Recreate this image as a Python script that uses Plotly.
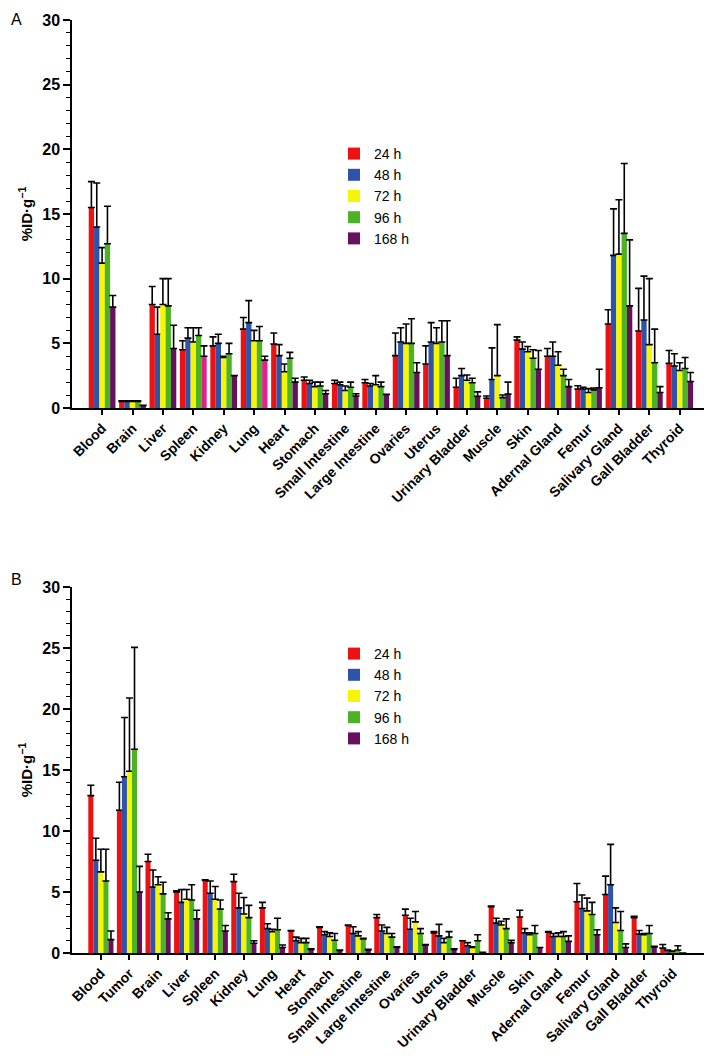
import plotly.graph_objects as go

series_names = ["24 h", "48 h", "72 h", "96 h", "168 h"]
series_colors = ["#ee1111", "#2d54a8", "#f6f600", "#4cb324", "#66115e"]
pink = "#e0208c"

cats_a = ["Blood", "Brain", "Liver", "Spleen", "Kidney", "Lung", "Heart", "Stomach",
          "Small Intestine", "Large Intestine", "Ovaries", "Uterus", "Urinary Bladder",
          "Muscle", "Skin", "Adernal Gland", "Femur", "Salivary Gland", "Gall Bladder", "Thyroid"]

a_24 = [15.5, 0.5, 8.0, 4.5, 4.8, 6.1, 4.95, 2.15, 1.9, 1.95, 4.05, 3.4, 1.6, 0.75, 5.25, 4.0, 1.47, 6.5, 5.95, 3.45]
a_24_top = [17.5, 0.55, 9.4, 5.2, 5.5, 7.0, 5.8, 2.4, 2.15, 2.2, 5.8, 4.8, 2.3, 0.93, 5.5, 4.6, 1.72, 7.6, 9.25, 4.45]
a_48 = [14.0, 0.5, 5.7, 5.4, 5.0, 6.6, 4.05, 1.9, 1.8, 1.7, 5.1, 5.1, 2.5, 2.2, 4.55, 4.0, 1.47, 11.8, 6.8, 3.25]
a_48_top = [17.4, 0.55, 7.8, 6.2, 5.7, 8.3, 4.9, 2.15, 2.0, 1.9, 6.2, 6.6, 3.05, 4.65, 5.1, 5.1, 1.6, 15.4, 10.2, 4.2]
a_72 = [11.2, 0.5, 8.0, 5.1, 3.9, 5.2, 2.8, 1.65, 1.35, 1.8, 5.0, 5.0, 2.15, 2.5, 4.35, 3.3, 1.2, 11.9, 4.9, 2.9]
a_72_top = [12.4, 0.55, 10.0, 6.2, 4.0, 6.0, 3.4, 2.0, 1.7, 2.5, 6.5, 6.2, 2.55, 6.45, 4.75, 4.35, 1.5, 16.1, 10.0, 3.5]
a_96 = [12.7, 0.5, 7.9, 5.6, 4.2, 5.2, 3.85, 1.7, 1.6, 1.65, 5.0, 5.1, 1.95, 0.8, 3.85, 2.5, 1.4, 13.5, 3.5, 3.05]
a_96_top = [15.6, 0.55, 10.0, 6.2, 5.0, 6.3, 4.3, 2.0, 2.0, 2.0, 6.9, 6.75, 2.3, 1.0, 4.5, 3.0, 1.55, 18.9, 6.1, 3.9]
a_168 = [7.8, 0.2, 4.6, 4.0, 2.5, 3.7, 2.0, 1.1, 0.93, 1.05, 2.75, 4.05, 0.9, 1.07, 3.0, 1.65, 1.57, 7.9, 1.2, 2.05]
a_168_top = [8.7, 0.2, 6.4, 4.8, 2.5, 4.0, 2.3, 1.35, 1.1, 1.05, 3.5, 6.75, 1.25, 2.0, 4.45, 2.2, 3.0, 13.0, 1.65, 2.75]
a_pink_cats = ["Spleen", "Lung"]

cats_b = ["Blood", "Tumor", "Brain", "Liver", "Spleen", "Kidney", "Lung", "Heart", "Stomach",
          "Small Intestine", "Large Intestine", "Ovaries", "Uterus", "Urinary Bladder",
          "Muscle", "Skin", "Adernal Gland", "Femur", "Salivary Gland", "Gall Bladder", "Thyroid"]

b_24 = [12.9, 11.7, 7.5, 5.0, 5.95, 5.85, 3.7, 1.8, 2.1, 2.25, 2.9, 3.1, 1.65, 1.0, 3.8, 2.95, 1.7, 4.2, 4.8, 2.9, 0.4]
b_24_top = [13.75, 14.0, 8.1, 5.1, 6.0, 6.45, 4.15, 1.85, 2.15, 2.3, 3.15, 3.6, 1.75, 1.0, 3.85, 3.5, 1.75, 5.7, 6.3, 3.0, 0.7]
b_48 = [7.6, 14.45, 5.4, 4.15, 4.9, 3.7, 2.0, 1.0, 1.5, 1.6, 1.8, 1.95, 1.4, 0.6, 2.45, 1.65, 1.35, 3.65, 5.6, 1.55, 0.2]
b_48_top = [9.4, 19.3, 6.8, 5.2, 5.9, 4.9, 2.4, 1.3, 1.75, 2.15, 2.3, 2.85, 2.35, 0.85, 2.85, 2.0, 1.6, 4.75, 8.9, 1.85, 0.25]
b_72 = [6.65, 14.9, 5.6, 4.4, 4.4, 3.2, 1.75, 0.85, 1.35, 1.4, 1.6, 2.55, 0.85, 0.45, 2.3, 1.5, 1.35, 3.45, 2.5, 1.5, 0.1]
b_72_top = [8.5, 20.9, 6.25, 5.2, 5.45, 4.55, 1.95, 1.2, 1.65, 1.75, 2.1, 3.4, 1.2, 0.5, 2.6, 1.65, 1.65, 4.5, 3.7, 1.6, 0.15]
b_96 = [5.9, 16.7, 4.85, 4.35, 3.6, 2.9, 1.9, 0.85, 1.05, 1.15, 1.3, 1.6, 1.3, 1.0, 2.0, 1.6, 1.35, 3.15, 1.85, 1.6, 0.25]
b_96_top = [8.5, 25.05, 5.8, 5.6, 4.35, 3.9, 2.85, 1.2, 1.6, 1.2, 1.6, 2.0, 1.75, 1.5, 2.8, 2.25, 1.75, 4.15, 3.4, 2.25, 0.6]
b_168 = [1.1, 5.0, 2.8, 2.8, 1.8, 0.8, 0.45, 0.3, 0.2, 0.25, 0.45, 0.65, 0.3, 0.05, 0.85, 0.45, 0.95, 1.5, 0.45, 0.5, 0.0]
b_168_top = [1.8, 7.1, 3.3, 3.5, 2.25, 1.0, 0.65, 0.35, 0.25, 0.3, 0.5, 0.7, 0.35, 0.05, 1.05, 0.45, 1.4, 1.9, 0.75, 0.55, 0.0]

y_ticks = [0, 5, 10, 15, 20, 25, 30]

a_vals = [(a_24, a_24_top), (a_48, a_48_top), (a_72, a_72_top), (a_96, a_96_top), (a_168, a_168_top)]
b_vals = [(b_24, b_24_top), (b_48, b_48_top), (b_72, b_72_top), (b_96, b_96_top), (b_168, b_168_top)]

# The page body has an 8px margin; the figure is sized so it fills the rest of the window.
OFF = 8
W, H = 712 - OFF, 1061 - OFF
ML, MR = 72 - OFF, 4
PW = W - ML - MR


def px_x(px):
    # px given in window coordinates
    return (px - OFF - ML) / PW


def px_y(py):
    return 1 - (py - OFF) / H


fig = go.Figure()


def add_panel(cats, vals, xa, ya, legend, pink_cats):
    for i, (name, (v, top)) in enumerate(zip(series_names, vals)):
        col = series_colors[i]
        if i == 4 and pink_cats:
            col = [pink if c in pink_cats else series_colors[i] for c in cats]
        fig.add_trace(go.Bar(
            x=cats, y=v, name=name, marker=dict(color=col, line=dict(width=0)),
            error_y=dict(type="data", symmetric=False,
                         array=[max(t - y, 0) for t, y in zip(top, v)],
                         arrayminus=[0] * len(v), color="black", thickness=1.6, width=3.5),
            xaxis=xa, yaxis=ya, legend=legend, offsetgroup=str(i),
        ))


add_panel(cats_a, a_vals, "x", "y", "legend", a_pink_cats)
add_panel(cats_b, b_vals, "x2", "y2", "legend2", [])

FAM = "Liberation Sans, Arial, sans-serif"
tickfont = dict(family=FAM, size=16, color="black", weight="bold")
xfont = dict(family=FAM, size=14, color="black", weight="bold")

yaxis_common = dict(
    range=[0, 30], tickvals=y_ticks, ticks="outside", ticklen=7, tickwidth=1.5, tickcolor="black",
    showline=True, linecolor="black", linewidth=1.5, showgrid=False, zeroline=False,
    tickfont=tickfont, automargin=False,
    minor=dict(dtick=1, ticks="outside", ticklen=4, tickwidth=1, tickcolor="black", showgrid=False),
    title=dict(text="%ID·g<sup>−1</sup>", font=dict(family=FAM, size=15, color="black", weight="bold"),
               standoff=6),
)
xaxis_common = dict(
    ticks="outside", ticklen=5, tickwidth=1.5, tickcolor="black", tickangle=-45, showline=True,
    linecolor="black", linewidth=1.5, showgrid=False, tickfont=xfont, type="category", automargin=False,
)

legend_font = dict(family=FAM, size=14, color="black")

fig.update_layout(
    width=W, height=H, paper_bgcolor="white", plot_bgcolor="white",
    margin=dict(l=ML, r=MR, t=0, b=0, autoexpand=False),
    barmode="group", bargap=0.12, bargroupgap=0.0,
    showlegend=True,
    xaxis=dict(xaxis_common, domain=[0, 1], range=[-0.99, 19.93], anchor="y"),
    yaxis=dict(yaxis_common, domain=[px_y(408), px_y(20)], anchor="x"),
    xaxis2=dict(xaxis_common, domain=[0, px_x(704)], range=[-1.01, 21.09], anchor="y2"),
    yaxis2=dict(yaxis_common, domain=[px_y(953), px_y(587)], anchor="x2"),
    legend=dict(x=px_x(334), y=px_y(138), xanchor="left", yanchor="top",
                bgcolor="rgba(0,0,0,0)", font=legend_font),
    legend2=dict(x=px_x(334), y=px_y(638), xanchor="left", yanchor="top",
                 bgcolor="rgba(0,0,0,0)", font=legend_font),
    annotations=[
        dict(text="A", x=px_x(9), y=px_y(9), xref="paper", yref="paper", xanchor="left", yanchor="top",
             showarrow=False, font=dict(family=FAM, size=16, color="black")),
        dict(text="B", x=px_x(9), y=px_y(569), xref="paper", yref="paper", xanchor="left", yanchor="top",
             showarrow=False, font=dict(family=FAM, size=16, color="black")),
    ],
)

fig.write_html("out.html")
